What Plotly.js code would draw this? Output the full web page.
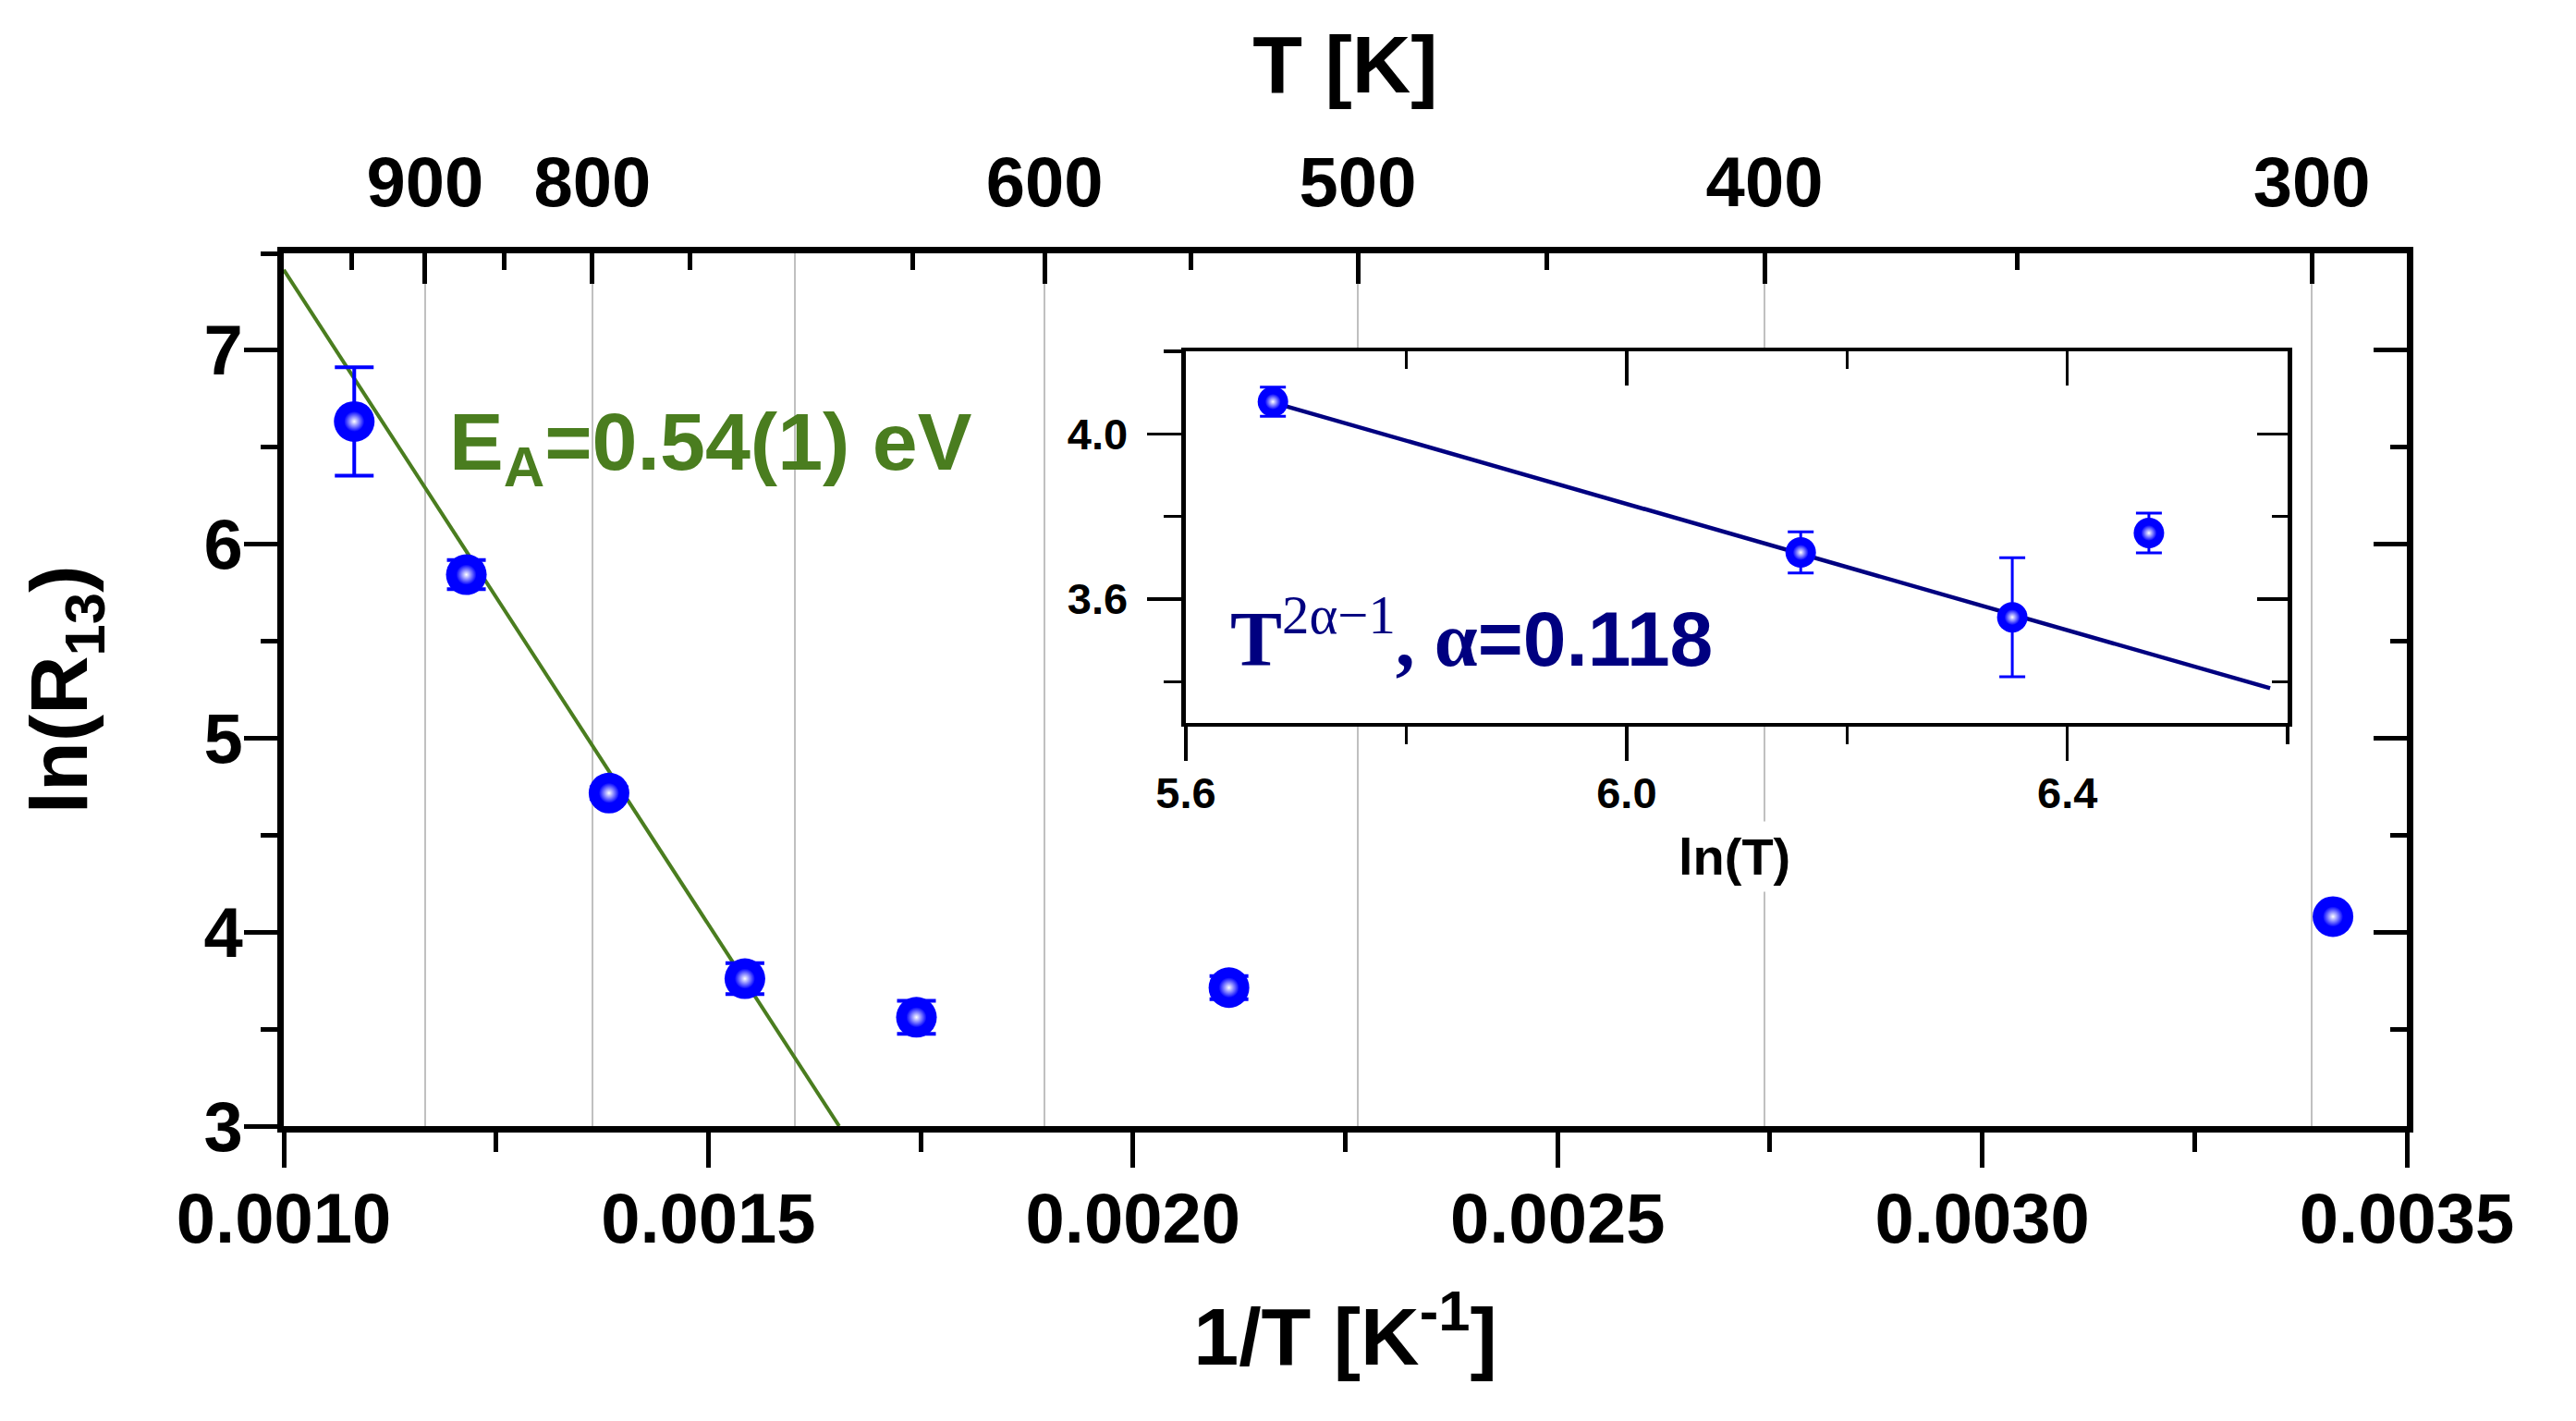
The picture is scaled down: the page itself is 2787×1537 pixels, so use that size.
<!DOCTYPE html>
<html>
<head>
<meta charset="utf-8">
<script src="https://cdn.plot.ly/plotly-3.0.1.min.js"></script>
<style>html,body{margin:0;padding:0;background:#fff;}#chart{width:2787px;height:1537px;}</style>
</head>
<body>
<div id="chart"></div>
<script>
// ---- main data: ln(R13) vs 1/T ----
const invT   = [0.001083, 0.001215, 0.001383, 0.001543, 0.001745, 0.002113, 0.003413];
const lnR    = [6.633, 5.843, 4.717, 3.760, 3.561, 3.714, 4.080];
const lnRerr = [0.28, 0.075, 0.03, 0.08, 0.085, 0.06, 0.02];

// Arrhenius fit line (green)
const fitX = [0.001, 0.001654];
const fitY = [7.415, 3.0];

// ---- inset data: ln(R13) vs ln(T) ----
const lnT      = [5.679, 6.158, 6.350, 6.474];
const lnRin    = [4.078, 3.713, 3.556, 3.760];
const lnRinErr = [0.035, 0.05, 0.144, 0.048];
const insetFitX = [5.679, 6.584];
const insetFitY = [4.076, 3.384];

// ---- top T [K] axis ----
const topTickPos  = [0.0011665, 0.0013635, 0.0018958, 0.0022647, 0.0027436, 0.0033880];
const topTickText = ['900', '800', '600', '500', '400', '300'];
const topMinorPos = [0.0010795, 0.0012601, 0.0014778, 0.0017401, 0.0020677, 0.0024868, 0.0030408];
const gridPos     = [0.0011665, 0.0013635, 0.0016019, 0.0018958, 0.0022647, 0.0027436, 0.0033880];

const SANS = 'Liberation Sans, Arial, sans-serif';
const SERIF = 'Liberation Serif, Times New Roman, serif';
const BLUE = '#0000ff';
const GREEN = '#4a7d1f';
const NAVY = '#000080';

const traces = [
  // empty traces to register overlay axes
  {x: [], y: [], xaxis: 'x3', yaxis: 'y', type: 'scatter', showlegend: false},
  {x: [], y: [], xaxis: 'x2', yaxis: 'y', type: 'scatter', showlegend: false},
  {x: [], y: [], xaxis: 'x', yaxis: 'y2', type: 'scatter', showlegend: false},
  // fit line
  {x: fitX, y: fitY, mode: 'lines', line: {color: GREEN, width: 4}, xaxis: 'x', yaxis: 'y', showlegend: false, hoverinfo: 'skip'},
  // data points with error bars
  {x: invT, y: lnR, mode: 'markers', xaxis: 'x', yaxis: 'y', showlegend: false,
   marker: {size: 44, color: BLUE, line: {width: 0}},
   error_y: {type: 'data', array: lnRerr, visible: true, color: BLUE, thickness: 4, width: 21}},
  // highlight
  {x: invT, y: lnR, mode: 'markers', xaxis: 'x', yaxis: 'y', showlegend: false, hoverinfo: 'skip',
   marker: {size: 22, color: BLUE, line: {width: 0}, gradient: {type: 'radial', color: '#ffffff'}}},

  // inset
  {x: [], y: [], xaxis: 'x5', yaxis: 'y4', type: 'scatter', showlegend: false},
  {x: [], y: [], xaxis: 'x4', yaxis: 'y5', type: 'scatter', showlegend: false},
  {x: insetFitX, y: insetFitY, mode: 'lines', line: {color: NAVY, width: 4.5}, xaxis: 'x4', yaxis: 'y4', showlegend: false, hoverinfo: 'skip'},
  {x: lnT, y: lnRin, mode: 'markers', xaxis: 'x4', yaxis: 'y4', showlegend: false,
   marker: {size: 33, color: BLUE, line: {width: 0}},
   error_y: {type: 'data', array: lnRinErr, visible: true, color: BLUE, thickness: 3, width: 14}},
  {x: lnT, y: lnRin, mode: 'markers', xaxis: 'x4', yaxis: 'y4', showlegend: false, hoverinfo: 'skip',
   marker: {size: 17, color: BLUE, line: {width: 0}, gradient: {type: 'radial', color: '#ffffff'}}}
];

const mainTickFont = {family: SANS, size: 76, color: '#000', weight: 'bold'};
const titleFont = {family: SANS, size: 88, color: '#000', weight: 'bold'};
const insetTickFont = {family: SANS, size: 47, color: '#000', weight: 'bold'};

const layout = {
  width: 2787, height: 1537,
  paper_bgcolor: '#ffffff', plot_bgcolor: '#ffffff',
  margin: {l: 307, r: 183, t: 274, b: 319, pad: 0},
  showlegend: false,
  xaxis: {
    domain: [0, 1], anchor: 'y', range: [0.001, 0.0035],
    tickmode: 'linear', tick0: 0.001, dtick: 0.0005, tickformat: '.4f',
    ticks: 'outside', ticklen: 38, tickwidth: 5, tickcolor: '#000',
    minor: {dtick: 0.00025, tick0: 0.001, ticks: 'outside', ticklen: 21, tickwidth: 5, tickcolor: '#000', showgrid: false},
    showline: true, linewidth: 7, linecolor: '#000', showgrid: false, zeroline: false,
    tickfont: mainTickFont, ticklabelstandoff: -10,
    title: {text: '1/T [K<sup>-1</sup>]', font: titleFont, standoff: 58}
  },
  xaxis2: {
    overlaying: 'x', anchor: 'y', side: 'top', range: [0.001, 0.0035],
    tickmode: 'array', tickvals: topTickPos, ticktext: topTickText,
    ticks: 'inside', ticklen: 33, tickwidth: 5, tickcolor: '#000',
    minor: {tickmode: 'array', tickvals: topMinorPos, ticks: 'inside', ticklen: 18, tickwidth: 5, tickcolor: '#000', showgrid: false},
    showline: true, linewidth: 7, linecolor: '#000', showgrid: false, zeroline: false,
    tickfont: mainTickFont, ticklabelstandoff: 14,
    title: {text: 'T [K]', font: titleFont, standoff: 26}
  },
  xaxis3: {
    overlaying: 'x', anchor: 'y', side: 'bottom', range: [0.001, 0.0035],
    tickmode: 'array', tickvals: gridPos, ticks: '', showticklabels: false,
    showgrid: true, gridcolor: '#c0c0c0', gridwidth: 2, showline: false, zeroline: false
  },
  yaxis: {
    domain: [0, 1], anchor: 'x', range: [3, 7.5],
    tickmode: 'linear', tick0: 3, dtick: 1,
    ticks: 'outside', ticklen: 36, tickwidth: 5, tickcolor: '#000',
    minor: {dtick: 0.5, tick0: 3, ticks: 'outside', ticklen: 18, tickwidth: 5, tickcolor: '#000', showgrid: false},
    showline: true, linewidth: 7, linecolor: '#000', showgrid: false, zeroline: false,
    tickfont: mainTickFont, ticklabelstandoff: -14,
    title: {text: 'ln(R<sub>13</sub>)', font: titleFont, standoff: 99}
  },
  yaxis2: {
    overlaying: 'y', anchor: 'x', side: 'right', range: [3, 7.5],
    tickmode: 'linear', tick0: 3, dtick: 1,
    ticks: 'inside', ticklen: 36, tickwidth: 5, tickcolor: '#000',
    minor: {dtick: 0.5, tick0: 3, ticks: 'inside', ticklen: 18, tickwidth: 5, tickcolor: '#000', showgrid: false},
    showline: true, linewidth: 7, linecolor: '#000', showgrid: false, zeroline: false,
    showticklabels: false
  },

  // inset axes
  xaxis4: {
    domain: [0.4249, 0.9439], anchor: 'y4', range: [5.6, 6.6],
    tickmode: 'linear', tick0: 5.6, dtick: 0.4, tickformat: '.1f',
    ticks: 'outside', ticklen: 37, tickwidth: 3.5, tickcolor: '#000',
    minor: {dtick: 0.2, tick0: 5.6, ticks: 'outside', ticklen: 19, tickwidth: 3.5, tickcolor: '#000', showgrid: false},
    showline: true, linewidth: 4.5, linecolor: '#000', showgrid: false, zeroline: false,
    tickfont: insetTickFont, ticklabelstandoff: -6
  },
  xaxis5: {
    overlaying: 'x4', anchor: 'y4', side: 'top', range: [5.6, 6.6],
    tickmode: 'linear', tick0: 5.6, dtick: 0.4,
    ticks: 'inside', ticklen: 37, tickwidth: 3.5, tickcolor: '#000',
    minor: {dtick: 0.2, tick0: 5.6, ticks: 'inside', ticklen: 19, tickwidth: 3.5, tickcolor: '#000', showgrid: false},
    showline: true, linewidth: 4.5, linecolor: '#000', showgrid: false, zeroline: false,
    showticklabels: false
  },
  yaxis4: {
    domain: [0.4619, 0.8877], anchor: 'x4', range: [3.3, 4.2],
    tickmode: 'linear', tick0: 3.6, dtick: 0.4, tickformat: '.1f',
    ticks: 'outside', ticklen: 37, tickwidth: 3.5, tickcolor: '#000',
    minor: {dtick: 0.2, tick0: 3.4, ticks: 'outside', ticklen: 19, tickwidth: 3.5, tickcolor: '#000', showgrid: false},
    showline: true, linewidth: 4.5, linecolor: '#000', showgrid: false, zeroline: false,
    tickfont: insetTickFont, ticklabelstandoff: 12
  },
  yaxis5: {
    overlaying: 'y4', anchor: 'x4', side: 'right', range: [3.3, 4.2],
    tickmode: 'linear', tick0: 3.6, dtick: 0.4,
    ticks: 'inside', ticklen: 33, tickwidth: 3.5, tickcolor: '#000',
    minor: {dtick: 0.2, tick0: 3.4, ticks: 'inside', ticklen: 17, tickwidth: 3.5, tickcolor: '#000', showgrid: false},
    showline: true, linewidth: 4.5, linecolor: '#000', showgrid: false, zeroline: false,
    showticklabels: false
  },

  annotations: [
    {xref: 'x', yref: 'y', x: 0.001193, y: 6.5, xanchor: 'left', yanchor: 'middle', showarrow: false,
     text: 'E<sub>A</sub>=0.54(1) eV', font: {family: SANS, size: 88, color: GREEN, weight: 'bold'}},
    {xref: 'x4', yref: 'y4', x: 5.639, y: 3.515, xanchor: 'left', yanchor: 'middle', showarrow: false,
     text: '<span style="font-family:' + SERIF + ';font-weight:bold">T</span><span style="font-family:' + SERIF + ';font-weight:normal"><sup>2α−1</sup></span><span style="font-family:' + SERIF + ';font-weight:bold">, α</span>=0.118',
     font: {family: SANS, size: 84, color: NAVY, weight: 'bold'}},
    {xref: 'paper', yref: 'paper', x: 0.6833, y: 0.309, xanchor: 'center', yanchor: 'middle', showarrow: false,
     text: 'ln(T)', font: {family: SANS, size: 56, color: '#000', weight: 'bold'}, bgcolor: '#ffffff', borderpad: 6}
  ]
};

Plotly.newPlot('chart', traces, layout, {staticPlot: true, displayModeBar: false});
</script>
</body>
</html>
